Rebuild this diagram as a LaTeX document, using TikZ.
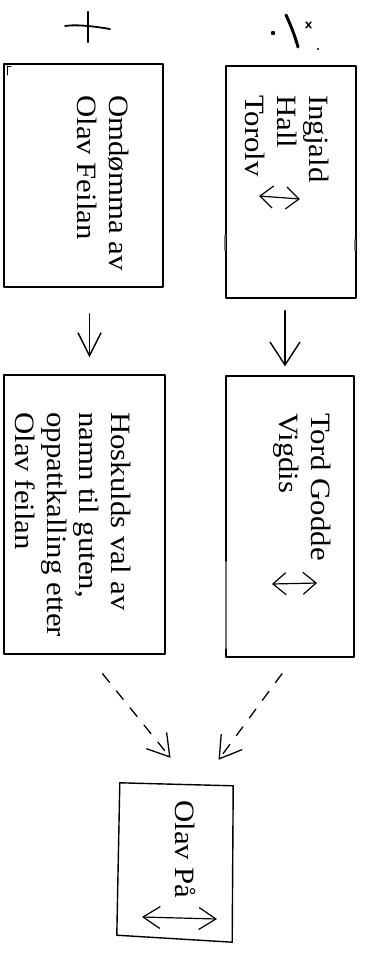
\documentclass[tikz,border=0pt]{standalone}
\usepackage{fontspec}
\setmainfont{Liberation Serif}[FakeStretch=1.1]
\usetikzlibrary{arrows.meta,calc}
% large serif text for the boxes
\newcommand\boxtextfont{\fontsize{28}{32}\selectfont}
\begin{document}
\begin{tikzpicture}[x=1pt,y=-1pt,
  line cap=round, line join=round,
  box/.style={draw, line width=1.4pt, rectangle, inner sep=0pt},
  boxtext/.style={rotate=-90, anchor=north west, inner sep=0pt, align=left, font=\boxtextfont},
  flow/.style={line width=1.4pt, -{Straight Barb[length=23pt,width=#1]}},
  flow/.default=30pt,
  hint/.style={line width=1.3pt, dash pattern=on 11pt off 11pt,
    -{Straight Barb[length=21pt,width=26pt]}},
  twoway/.style={line width=1.2pt, {Straight Barb[length=#1,width=22pt]}-{Straight Barb[length=#1,width=22pt]}},
  twoway/.default=15pt,
  smudge/.style={draw=black!55, line width=2.2pt}]

\fill[white] (0,0) rectangle (366,955);
\useasboundingbox (0,0) rectangle (366,955);

% ruled boxes
\node[box, minimum width=130pt, minimum height=232pt] (b1) at (291,182) {};
\node[box, minimum width=159pt, minimum height=223pt] (b2) at (83.5,175.5) {};
\node[box, minimum width=128pt, minimum height=281pt] (b3) at (290,516.5) {};
\node[box, minimum width=161pt, minimum height=279pt] (b4) at (84.5,514.5) {};
% freehand box
\node[inner sep=0pt, minimum width=113pt, minimum height=156pt] (b5) at (175.5,862) {};
\draw[line width=1.4pt] ($(b5.north west)+(1,-1)$) -- ($(b5.north east)+(1,2)$)
  -- ($(b5.south east)+(0,2)$) -- ($(b5.south west)+(-2,-5)$) -- cycle;

% texts
\node[boxtext] (t1) at (329,95) {Ingjald\\Hall\\Torolv};
\node[boxtext] (t2) at (129,95) {Omdømma av\\Olav Feilan};
\node[boxtext] (t3) at (331,413) {Tord Godde\\Vigdis};
\node[boxtext] (t4) at (131,412) {Hoskulds val av\\namn til guten,\\oppattkalling etter\\Olav feilan};
\node[boxtext] (t5) at (196,800) {Olav På};

% two-way marks
\draw[twoway=13pt] (259,196) -- (300,199);
\draw[twoway=13pt] (272,584) -- (317,583);
\draw[twoway=17pt] (142,917) -- (217,919);

% solid flows
\draw[flow=30pt] ($(b1.south)+(-6,12)$) -- ($(b3.north)+(-5,-9)$);
\draw[flow=23pt] ($(b2.south)+(6,26)$) -- ($(b4.north)+(5,-17)$);

% dashed flows into the last box
\draw[hint] ($(b3.south)+(-8,16)$) -- ($(b5.north)+(43,-24)$);
\draw[hint] ($(b4.south)+(18,19)$) -- ($(b5.north)+(-5,-26)$);

% marks above the boxes
\draw[line width=2.6pt] (88,12) -- (88,42);
\draw[line width=1.8pt] (65,26) .. controls (78,24) and (98,27) .. (110,29);
\fill (273,33) circle (2.2pt);
\draw[line width=3pt] (286,15) .. controls (291,26) and (295,36) .. (298,47);
\draw[line width=1.4pt] (306,22) -- (311,28) (311,22) -- (306,28);
\fill (318,49) circle (1.1pt);

% scan smudges along some edges
\draw[smudge] (225,236) -- (225,250);
\draw[smudge] (355,240) -- (355,250);
\draw[smudge] (226,562) -- (226,648);
\draw[line width=1pt] (7,66) -- (7,75) (7,67) -- (11,67);
\end{tikzpicture}
\end{document}
